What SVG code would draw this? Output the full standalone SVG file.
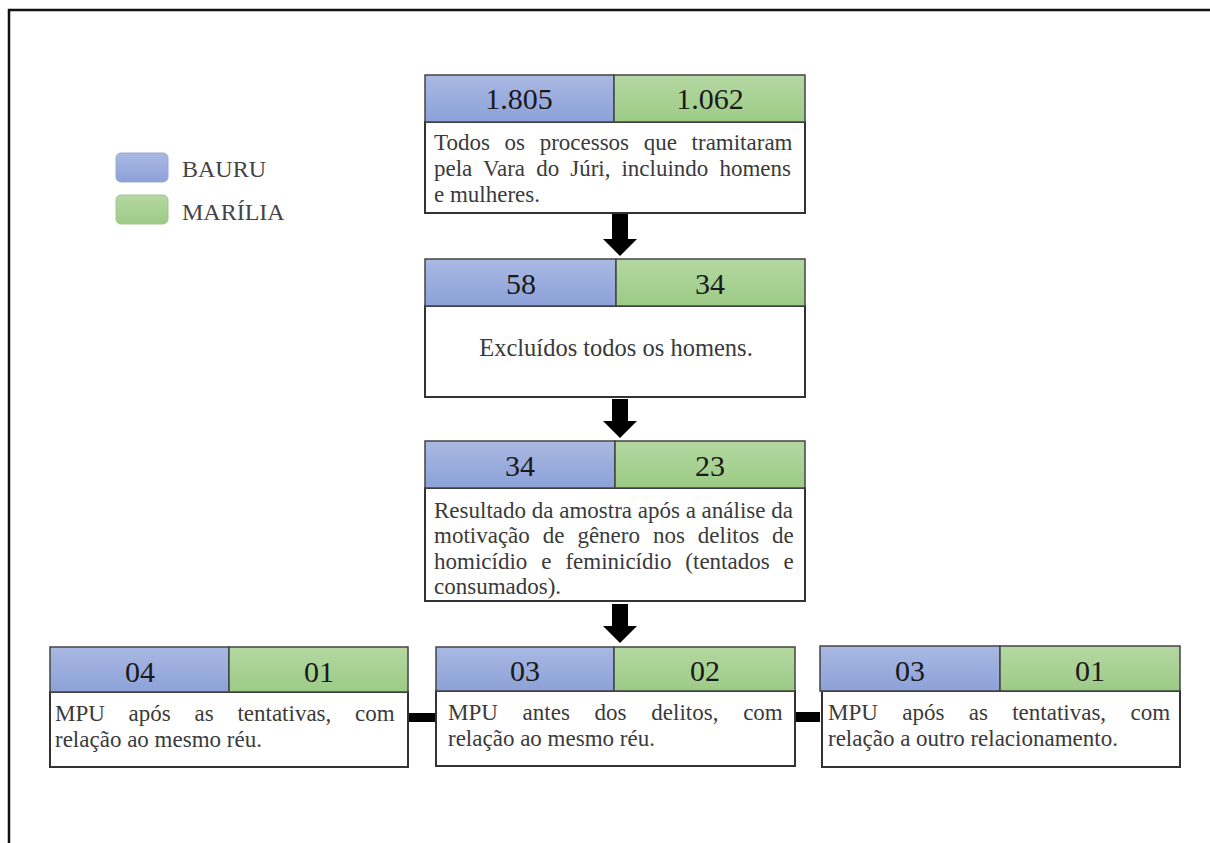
<svg xmlns="http://www.w3.org/2000/svg" width="1210" height="843" viewBox="0 0 1210 843">
<defs>
<linearGradient id="gb" x1="0" y1="0" x2="0" y2="1"><stop offset="0" stop-color="#aab9e3"/><stop offset="1" stop-color="#8ca1d8"/></linearGradient>
<linearGradient id="gg" x1="0" y1="0" x2="0" y2="1"><stop offset="0" stop-color="#b5d8a2"/><stop offset="1" stop-color="#9ccb86"/></linearGradient>
<style>
.hb{fill:url(#gb);stroke:#444;stroke-width:1.5}
.hg{fill:url(#gg);stroke:#444;stroke-width:1.5}
.bx{fill:#fff;stroke:#333;stroke-width:2}
.num{font-family:"Liberation Serif","Times New Roman",serif;font-size:30px;fill:#1a1a1a;text-anchor:middle}
.t{font-family:"Liberation Serif","Times New Roman",serif;font-size:23px;fill:#3a3a3a}
.lg{font-family:"Liberation Serif","Times New Roman",serif;font-size:24px;fill:#444}
.ar{fill:#000}
</style>
</defs>
<rect width="1210" height="843" fill="#fff"/>
<path d="M9,843 V10 H1210" fill="none" stroke="#111" stroke-width="2.5"/>

<g id="legend">
<rect x="116" y="153" width="52" height="29" rx="5" fill="url(#gb)" stroke="#9aa8d0" stroke-width="1"/>
<text class="lg" x="182" y="177">BAURU</text>
<rect x="116" y="195" width="52" height="29" rx="5" fill="url(#gg)" stroke="#a3c394" stroke-width="1"/>
<text class="lg" x="182" y="220">MARÍLIA</text>
</g>

<g id="connectors">
<path class="ar" d="M612,214 H628 V239 H637 L620,256 L603,239 H612 Z"/>
<path class="ar" d="M612,399 H628 V421 H637 L620,438 L603,421 H612 Z"/>
<path class="ar" d="M612,604 H628 V626 H637 L620,643 L603,626 H612 Z"/>
<rect x="408" y="713" width="28" height="9" fill="#000"/>
<rect x="795" y="712" width="25" height="10" fill="#000"/>
</g>

<g id="node1">
<rect class="bx" x="425" y="122" width="380" height="91"/>
<rect class="hb" x="425" y="75" width="189" height="47"/>
<rect class="hg" x="614" y="75" width="191" height="47"/>
<text class="num" x="519" y="109">1.805</text>
<text class="num" x="710" y="109">1.062</text>
<text class="t" x="434" y="150" word-spacing="8.9">Todos os processos que tramitaram</text>
<text class="t" x="434" y="176" word-spacing="5.3">pela Vara do Júri, incluindo homens</text>
<text class="t" x="434" y="202">e mulheres.</text>
</g>

<g id="node2">
<rect class="bx" x="425" y="306" width="380" height="91"/>
<rect class="hb" x="425" y="259" width="191" height="47"/>
<rect class="hg" x="616" y="259" width="189" height="47"/>
<text class="num" x="521" y="294">58</text>
<text class="num" x="710" y="294">34</text>
<text class="t" x="616" y="356" text-anchor="middle" style="font-size:24.5px">Excluídos todos os homens.</text>
</g>

<g id="node3">
<rect class="bx" x="425" y="488" width="380" height="113"/>
<rect class="hb" x="425" y="441" width="190" height="47"/>
<rect class="hg" x="615" y="441" width="190" height="47"/>
<text class="num" x="520" y="476">34</text>
<text class="num" x="710" y="476">23</text>
<text class="t" x="434" y="518">Resultado da amostra após a análise da</text>
<text class="t" x="434" y="543" word-spacing="7.2">motivação de gênero nos delitos de</text>
<text class="t" x="434" y="569" word-spacing="8.2">homicídio e feminicídio (tentados e</text>
<text class="t" x="434" y="594">consumados).</text>
</g>

<g id="node4">
<rect class="bx" x="50" y="692" width="358" height="75"/>
<rect class="hb" x="50" y="647" width="179" height="45"/>
<rect class="hg" x="229" y="647" width="179" height="45"/>
<text class="num" x="140" y="682">04</text>
<text class="num" x="319" y="682">01</text>
<text class="t" x="55" y="721" word-spacing="18">MPU após as tentativas, com</text>
<text class="t" x="55" y="747">relação ao mesmo réu.</text>
</g>

<g id="node5">
<rect class="bx" x="436" y="691" width="359" height="75"/>
<rect class="hb" x="436" y="647" width="178" height="44"/>
<rect class="hg" x="614" y="647" width="181" height="44"/>
<text class="num" x="525" y="681">03</text>
<text class="num" x="705" y="681">02</text>
<text class="t" x="448" y="720" word-spacing="19">MPU antes dos delitos, com</text>
<text class="t" x="448" y="746">relação ao mesmo réu.</text>
</g>

<g id="node6">
<rect class="bx" x="822" y="691" width="358" height="76"/>
<rect class="hb" x="820" y="646" width="180" height="45"/>
<rect class="hg" x="1000" y="646" width="180" height="45"/>
<text class="num" x="910" y="681">03</text>
<text class="num" x="1090" y="681">01</text>
<text class="t" x="828" y="720" word-spacing="18.6">MPU após as tentativas, com</text>
<text class="t" x="828" y="746">relação a outro relacionamento.</text>
</g>
</svg>
